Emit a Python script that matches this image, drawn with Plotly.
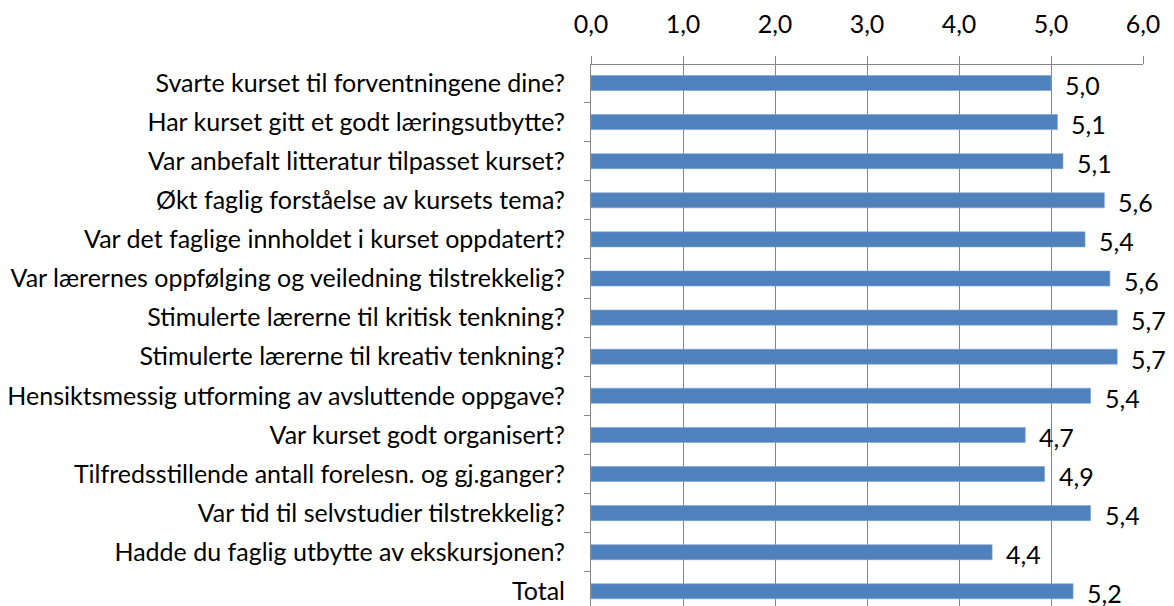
import plotly.graph_objects as go

categories = [
    "Svarte kurset til forventningene dine?",
    "Har kurset gitt et godt læringsutbytte?",
    "Var anbefalt litteratur tilpasset kurset?",
    "Økt faglig forståelse av kursets tema?",
    "Var det faglige innholdet i kurset oppdatert?",
    "Var lærernes oppfølging og veiledning tilstrekkelig?",
    "Stimulerte lærerne til kritisk tenkning?",
    "Stimulerte lærerne til kreativ tenkning?",
    "Hensiktsmessig utforming av avsluttende oppgave?",
    "Var kurset godt organisert?",
    "Tilfredsstillende antall forelesn. og gj.ganger?",
    "Var tid til selvstudier tilstrekkelig?",
    "Hadde du faglig utbytte av ekskursjonen?",
    "Total",
]
values = [5.00, 5.07, 5.13, 5.58, 5.37, 5.64, 5.72, 5.72, 5.43, 4.72, 4.93, 5.43, 4.36, 5.24]
x_ticks = [0, 1, 2, 3, 4, 5, 6]

FONT = "Lato"
FS = 25
AXIS_COLOR = "#868686"

fig = go.Figure()
fig.add_trace(go.Bar(
    x=values,
    y=categories,
    orientation="h",
    width=0.385,
    marker=dict(color="#4F81BD", line=dict(color="#7EA3D3", width=0.6)),
    hoverinfo="x+y",
))

for v, c in zip(values, categories):
    fig.add_annotation(
        x=v, y=c, xref="x", yref="y",
        text=f"{v:.1f}".replace(".", ","),
        showarrow=False, xanchor="left", yanchor="middle",
        xshift=12, yshift=-2,
        font=dict(family=FONT, size=FS, color="#000000"),
    )

fig.update_layout(
    width=1174, height=606,
    margin=dict(l=583, r=39, t=57, b=0, autoexpand=False),
    paper_bgcolor="white", plot_bgcolor="white",
    separators=", ",
    showlegend=False,
    font=dict(family=FONT, size=FS, color="#000000"),
    xaxis=dict(
        side="top", range=[0, 6], tickvals=x_ticks, tickformat=".1f",
        showgrid=True, gridcolor=AXIS_COLOR, gridwidth=1,
        showline=True, linecolor=AXIS_COLOR, linewidth=1,
        ticks="outside", ticklen=8, tickcolor=AXIS_COLOR,
        ticklabelstandoff=13, zeroline=False, automargin=False,
        tickfont=dict(family=FONT, size=FS, color="#000000"),
    ),
    yaxis=dict(
        type="category", categoryorder="array", categoryarray=categories,
        range=[13.58, -0.46],
        showgrid=False, showline=True, linecolor=AXIS_COLOR, linewidth=1,
        ticks="outside", ticklen=6, tickcolor=AXIS_COLOR, tickson="boundaries",
        ticklabelstandoff=20, automargin=False,
        tickfont=dict(family=FONT, size=FS, color="#000000"),
    ),
)

fig.write_html("out.html")
